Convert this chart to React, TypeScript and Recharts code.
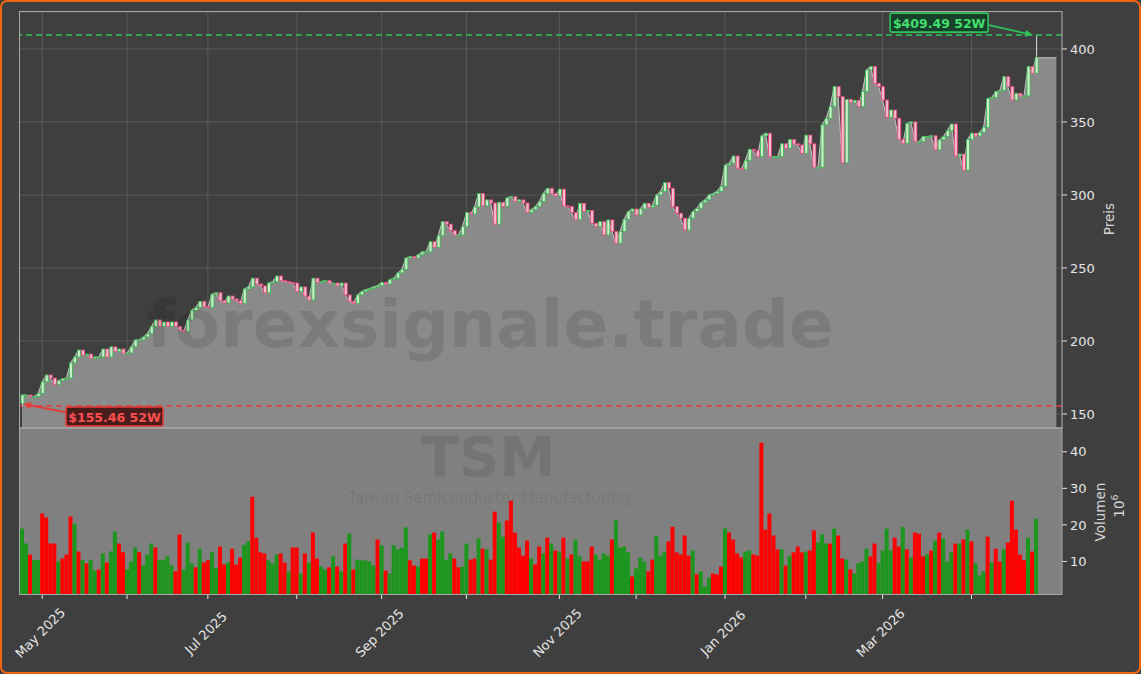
import React from 'react';
import {
  ComposedChart, Area, Bar, XAxis, YAxis, CartesianGrid, ReferenceLine, ReferenceDot, Cell,
} from 'recharts';

// daily closes, 24 Apr 2025 .. 23 Apr 2026
const closes = [
  163, 163, 162, 162, 164, 172, 176.7, 174.6, 170, 172.8,
  174, 174.6, 185, 189, 193.8, 190.4, 191, 188, 189, 189,
  194.5, 189, 196, 192.7, 194.5, 191.7, 191.7, 196, 200.7, 200.7,
  202.7, 205, 209.8, 214.4, 210, 213, 210, 213, 210, 207.5,
  206.4, 214.4, 221, 223, 227, 223.5, 223, 232, 233, 227.6,
  226, 230.8, 228.8, 227.6, 225.6, 235.6, 237, 243, 239, 237.7,
  233, 239.7, 240.5, 244.5, 241.3, 240.7, 240, 239.7, 233.8, 237,
  230.8, 228, 243, 240, 240.7, 241.3, 239.7, 239.7, 237.7, 239.7,
  231.5, 227, 225.8, 231.5, 233.8, 235, 236, 237, 238, 240,
  239, 242, 243, 246.6, 249, 256.8, 257.7, 256.8, 259, 261,
  261, 268, 264, 272, 281.7, 280, 275.6, 272.6, 272.6, 278.3,
  287.9, 287, 291.8, 301, 292.5, 296.6, 294.5, 280, 295, 292,
  298, 298.8, 295.4, 296.6, 294.5, 288, 290, 292, 295.4, 301,
  304.6, 301, 299.3, 304, 292.5, 292, 287.9, 283, 294.3, 288.6,
  289.4, 280.6, 278.3, 281.7, 272.6, 282.9, 274.9, 266.9, 274.9, 283.3,
  288.6, 290.4, 286.3, 290.4, 294.3, 291.6, 292.9, 300, 302.3, 308.5,
  304.6, 292, 287.5, 284, 276, 284, 288.6, 290.9, 294.7, 296.6,
  300, 301, 302.5, 306, 320.5, 321.7, 326.7, 318.3, 317.6, 323.5,
  331.3, 330.3, 326.2, 340.4, 342.3, 326.2, 326.2, 326.2, 335, 332,
  338, 335, 334.2, 328.5, 341, 335, 319, 319, 348, 352.5,
  360.5, 374.2, 367.3, 322, 365.5, 363.2, 364.8, 360.5, 370.8, 385.6,
  388, 376.5, 374.2, 365, 353.2, 358.2, 352.5, 338, 335.4, 349,
  350, 336.5, 336.5, 340, 340, 340.5, 330.8, 337.7, 340, 344,
  348.6, 326.7, 328, 317, 338, 342.3, 340.4, 342.8, 346.4, 366,
  366.8, 370.8, 371.5, 381, 374.2, 365, 369.6, 367.8, 367.8, 388,
  383.4, 394,
];

// volume in millions
const volumes = [
  19.0, 14.9, 11.9, 10.3, 10.5, 23.1, 22.0, 14.9, 14.9, 10.0,
  10.8, 11.9, 22.3, 20.4, 12.7, 10.5, 9.5, 10.5, 7.5, 7.8,
  12.2, 9.7, 12.7, 18.2, 14.9, 12.5, 7.8, 10.0, 13.8, 12.5,
  8.9, 11.9, 14.9, 13.8, 10.3, 10.5, 11.4, 8.9, 7.3, 17.4,
  7.8, 15.2, 9.5, 8.4, 13.5, 9.7, 10.3, 12.5, 8.1, 14.1,
  9.2, 9.7, 13.5, 9.2, 11.1, 14.6, 15.5, 27.7, 16.5, 12.5,
  12.2, 10.3, 9.5, 11.9, 12.2, 9.7, 7.3, 13.8, 13.8, 6.7,
  12.2, 9.7, 17.9, 10.8, 8.6, 7.8, 8.4, 11.4, 8.6, 7.3,
  14.9, 17.6, 7.8, 10.5, 10.3, 10.3, 10.0, 8.9, 16.0, 14.4,
  7.5, 6.7, 14.4, 13.3, 13.8, 19.3, 10.3, 8.9, 8.6, 10.8,
  10.8, 17.4, 17.9, 16.0, 18.2, 10.5, 12.2, 10.8, 8.4, 8.6,
  14.9, 10.5, 10.8, 16.3, 13.5, 13.3, 10.5, 23.6, 20.6, 16.8,
  21.2, 26.6, 17.9, 13.8, 11.6, 15.7, 10.8, 9.2, 14.1, 12.2,
  16.5, 14.9, 13.0, 12.7, 16.5, 10.8, 11.9, 16.0, 11.4, 10.0,
  10.0, 14.1, 11.9, 10.5, 12.2, 11.6, 16.0, 21.2, 13.8, 14.1,
  12.5, 5.9, 8.1, 11.1, 10.0, 7.3, 10.5, 17.1, 11.6, 12.7,
  15.5, 19.5, 12.5, 11.9, 17.1, 11.6, 13.0, 6.5, 7.3, 3.2,
  5.6, 6.7, 6.5, 8.6, 19.0, 17.9, 16.0, 12.2, 11.1, 12.7,
  13.0, 11.9, 11.6, 42.5, 18.7, 23.1, 17.1, 13.3, 13.3, 8.9,
  11.6, 12.5, 14.1, 12.5, 12.7, 13.0, 18.5, 15.2, 17.4, 14.9,
  14.9, 19.0, 17.1, 10.8, 10.5, 7.8, 6.7, 9.5, 10.0, 13.5,
  11.4, 14.9, 9.5, 13.0, 19.0, 13.0, 16.5, 14.1, 19.5, 13.3,
  11.1, 17.9, 17.6, 11.4, 11.9, 13.0, 15.7, 17.9, 16.3, 10.0,
  12.5, 14.9, 14.9, 16.0, 18.7, 15.5, 9.5, 6.2, 7.3, 16.8,
  9.7, 13.5, 10.0, 13.3, 15.2, 26.6, 18.7, 11.9, 10.3, 16.5,
  12.7, 21.7,
];

// G = up day (green bar), R = down day (red bar)
const volumeDirs =
  'GGRGGRRRRG' + 'RRRGRGRGGR' + 'GRGGRRGGGR' + 'GGGRGGGGRR' + 'GGGRGRRGGR' +
  'RGRRRGGRRR' + 'RGGGRRGRRG' + 'RGRRGGRGRG' + 'RGRGGGGGRG' + 'RGGGGGRRGR' +
  'RGRGGGGRRG' + 'GRRGRGRRGG' + 'RRRRRRGRRG' + 'RGRGRGRGGR' + 'RRGGGGRGGG' +
  'GRGGGRRGGG' + 'RRRRRRGRGG' + 'GRRRGRRRRG' + 'GRRRRRRRGR' + 'GRRRGRRGGG' +
  'RGRRGRGGGG' + 'RRGGGGRRGR' + 'GRRRGRGRGG' + 'GRGRGRGGGR' + 'GRRGRRRRRG' +
  'RG';

const monthTicks = [5, 26, 46, 68, 89, 110, 133, 152, 174, 194, 213, 235];
const monthLabels = ['May 2025', '', 'Jul 2025', '', 'Sep 2025', '', 'Nov 2025', '', 'Jan 2026', '', 'Mar 2026', ''];
const priceTicks = [150, 200, 250, 300, 350, 400];
const volumeTicks = [10, 20, 30, 40];
const firstOpen = 157;
const low52 = { index: 0, price: 155.46 };
const high52 = { index: 251, price: 409.49 };
const tailSlots = 5; // grey fill runs a little past the last candle

const FONT = '"DejaVu Sans", Verdana, sans-serif';
const GREEN = '#2fc35a';
const RED = '#e83a3a';
const xDomain: [number, number] = [-0.62, 257.4];

const rows: any[] = closes.map((c, i) => {
  const o = i === 0 ? firstOpen : closes[i - 1];
  let hi = Math.max(o, c);
  let lo = Math.min(o, c);
  if (i === low52.index) lo = low52.price;
  if (i === high52.index) hi = high52.price;
  return { i, close: c, open: o, hi, lo, vol: volumes[i], up: volumeDirs[i] === 'G' };
});
const volRows = rows.slice();
for (let k = 1; k <= tailSlots; k++) {
  rows.push({ i: closes.length - 1 + k, close: closes[closes.length - 1] });
}

const candleRange = (d: any) => (d.hi == null ? null : [d.lo, d.hi]);

const Candle = (props: any) => {
  const { x, y, width, height, payload } = props;
  if (!payload || payload.hi == null) return null;
  const span = payload.hi - payload.lo;
  const k = span > 0 ? height / span : 0;
  const top = Math.max(payload.open, payload.close);
  const bot = Math.min(payload.open, payload.close);
  const by = y + (payload.hi - top) * k;
  const bh = Math.max(1, (top - bot) * k);
  const up = payload.close >= payload.open;
  const cx = x + width / 2;
  return (
    <g>
      <line x1={cx} x2={cx} y1={y} y2={y + Math.max(height, 1)} stroke="#dcdcdc" strokeWidth={1} />
      <rect x={x} y={by} width={width} height={bh}
        fill={up ? '#cdeecd' : '#f5bccb'} stroke={up ? '#34b84c' : '#e8457a'} strokeWidth={0.8} />
    </g>
  );
};

const arrow = (x1: number, y1: number, x2: number, y2: number, color: string) => {
  const a = Math.atan2(y2 - y1, x2 - x1);
  const L = 8, w = 3.5;
  const bx = x2 - L * Math.cos(a), byy = y2 - L * Math.sin(a);
  const p1 = `${bx - w * Math.sin(a)},${byy + w * Math.cos(a)}`;
  const p2 = `${bx + w * Math.sin(a)},${byy - w * Math.cos(a)}`;
  return (
    <g>
      <line x1={x1} y1={y1} x2={bx} y2={byy} stroke={color} strokeWidth={1.8} />
      <polygon points={`${x2},${y2} ${p1} ${p2}`} fill={color} />
    </g>
  );
};

const HighMarker = (props: any) => {
  const { cx, cy } = props;
  const bw = 98, bh = 19;
  const bx = cx - 146, by = cy - 22;
  return (
    <g>
      {arrow(bx + bw + 1, by + 12, cx - 3, cy, GREEN)}
      <rect x={bx} y={by} width={bw} height={bh} rx={2} fill="#18402a" stroke={GREEN} strokeWidth={1.6} />
      <text x={bx + bw / 2} y={by + bh / 2 + 0.5} textAnchor="middle" dominantBaseline="central"
        fill="#43e06f" fontSize={12.5} fontWeight="bold" fontFamily={FONT}>
        {`$${high52.price.toFixed(2)} 52W`}
      </text>
    </g>
  );
};

const LowMarker = (props: any) => {
  const { cx, cy } = props;
  const bw = 97, bh = 19;
  const bx = cx + 44, by = cy + 1;
  return (
    <g>
      {arrow(bx - 1, by + 5, cx + 1, cy - 2, RED)}
      <rect x={bx} y={by} width={bw} height={bh} rx={2} fill="#4a1d1d" stroke={RED} strokeWidth={1.6} />
      <text x={bx + bw / 2} y={by + bh / 2 + 0.5} textAnchor="middle" dominantBaseline="central"
        fill="#ff5050" fontSize={12.5} fontWeight="bold" fontFamily={FONT}>
        {`$${low52.price.toFixed(2)} 52W`}
      </text>
    </g>
  );
};

const MonthTick = (props: any) => {
  const { x, y, payload } = props;
  const label = monthLabels[monthTicks.indexOf(payload.value)];
  if (!label) return null;
  const cx = x - 2;
  const cy = y + 32;
  return (
    <text x={cx} y={cy} textAnchor="middle" dominantBaseline="central"
      transform={`rotate(-45 ${cx} ${cy})`} fill="#e6e6e6" fontSize={13} fontFamily={FONT}>
      {label}
    </text>
  );
};

const tickStyle = { fill: '#e6e6e6', fontSize: 13, fontFamily: FONT };

export default function App() {
  return (
    <div style={{ position: 'absolute', left: 0, top: 0, width: 1141, height: 674, background: '#3f3f3f', fontFamily: FONT, overflow: 'hidden' }}>
      {/* volume panel background */}
      <div style={{ position: 'absolute', left: 19.5, top: 428, width: 1042.5, height: 166.5, background: '#808080' }} />

      <div style={{ position: 'absolute', left: 0, top: 0 }}>
        <ComposedChart width={1141} height={428} data={rows} margin={{ top: 12, right: 19, left: 19.5, bottom: 0 }}>
          <CartesianGrid stroke="rgba(255,255,255,0.17)" strokeWidth={0.8} />
          <XAxis type="number" dataKey="i" domain={xDomain} ticks={monthTicks} hide allowDataOverflow />
          <YAxis orientation="right" domain={[140.4, 425.3]} ticks={priceTicks} width={60} allowDataOverflow
            axisLine={false} tickSize={5} tickMargin={3} tick={tickStyle} tickLine={{ stroke: '#e6e6e6' }} />
          <Area type="linear" dataKey="close" fill="#8a8a8a" fillOpacity={1} stroke="#c6c6c6" strokeWidth={1}
            isAnimationActive={false} dot={false} activeDot={false} />
          <Bar dataKey={candleRange} barSize={3} shape={<Candle />} isAnimationActive={false} />
          <ReferenceLine y={high52.price} stroke={GREEN} strokeDasharray="6 4" strokeWidth={1.5} />
          <ReferenceLine y={low52.price} stroke={RED} strokeDasharray="6 4" strokeWidth={1.5} />
          <ReferenceDot x={high52.index} y={high52.price} r={0} shape={<HighMarker />} ifOverflow="visible" />
          <ReferenceDot x={low52.index} y={low52.price} r={0} shape={<LowMarker />} ifOverflow="visible" />
        </ComposedChart>
      </div>

      <div style={{ position: 'absolute', left: 0, top: 428 }}>
        <ComposedChart width={1141} height={246} data={volRows} margin={{ top: 0, right: 19, left: 19.5, bottom: 0 }}>
          <XAxis type="number" dataKey="i" domain={xDomain} ticks={monthTicks} allowDataOverflow height={80}
            axisLine={false} tickSize={5} tickLine={{ stroke: '#e6e6e6' }} tick={<MonthTick />} interval={0} />
          <YAxis orientation="right" domain={[1.1, 46.5]} ticks={volumeTicks} width={60} allowDataOverflow
            axisLine={false} tickSize={5} tickMargin={3} tick={tickStyle} tickLine={{ stroke: '#e6e6e6' }} />
          <Bar dataKey="vol" barSize={4} isAnimationActive={false}>
            {volRows.map((r) => <Cell key={r.i} fill={r.up ? '#1c961c' : '#ff0000'} />)}
          </Bar>
        </ComposedChart>
      </div>

      <svg width={1141} height={674} style={{ position: 'absolute', left: 0, top: 0, pointerEvents: 'none' }}>
        <text x={490} y={347} textAnchor="middle" fontSize={66} fontWeight="bold" fill="rgba(0,0,0,0.1)" fontFamily={FONT}>
          forexsignale.trade
        </text>
        <text x={488} y={476} textAnchor="middle" fontSize={56} fontWeight="bold" fill="rgba(0,0,0,0.09)" fontFamily={FONT}>
          TSM
        </text>
        <text x={489} y={503} textAnchor="middle" fontSize={15} fill="rgba(0,0,0,0.09)" fontFamily={FONT}>
          Taiwan Semiconductor Manufacturing
        </text>
        <rect x={19.5} y={11.5} width={1042.5} height={416.5} fill="none" stroke="#a8a8a8" strokeWidth={1} />
        <rect x={19.5} y={428} width={1042.5} height={166.5} fill="none" stroke="#a8a8a8" strokeWidth={1} />
        <text x={1109} y={219} textAnchor="middle" dominantBaseline="central" transform="rotate(-90 1109 219)"
          fontSize={13.5} fill="#d6d6d6" fontFamily={FONT}>Preis</text>
        <text x={1100} y={512} textAnchor="middle" dominantBaseline="central" transform="rotate(-90 1100 512)"
          fontSize={13.5} fill="#d6d6d6" fontFamily={FONT}>Volumen</text>
        <text x={1119} y={506} textAnchor="middle" dominantBaseline="central" transform="rotate(-90 1119 506)"
          fontSize={13.5} fill="#d6d6d6" fontFamily={FONT}>
          10<tspan dy={-5} fontSize={9.5}>6</tspan>
        </text>
      </svg>

      <div style={{ position: 'absolute', left: 0, top: 0, width: 1141, height: 674, boxSizing: 'border-box', border: '2.5px solid #f2640f', borderRadius: 7, pointerEvents: 'none' }} />
    </div>
  );
}
